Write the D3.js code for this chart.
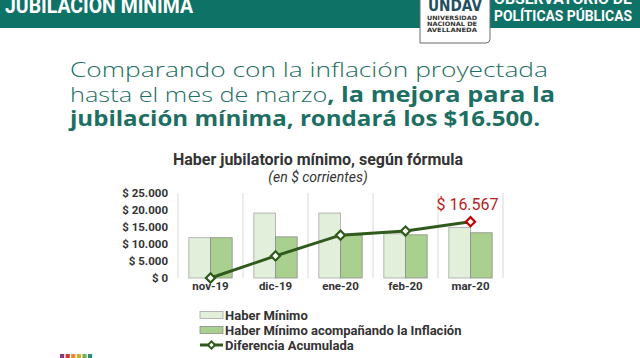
<!DOCTYPE html>
<html><head><meta charset="utf-8">
<script src="https://cdn.jsdelivr.net/npm/d3@7"></script>
<style>html,body{margin:0;padding:0;background:#fff;}svg{display:block;}</style>
</head><body>
<script>
const categories = ["nov-19","dic-19","ene-20","feb-20","mar-20"];
const haberMinimo = [11850, 19100, 19100, 13000, 14900];
const haberInflacion = [11850, 12100, 12600, 12700, 13300];
const diferencia = [0, 6500, 12600, 13800, 16567];
const yTicks = [0, 5000, 10000, 15000, 20000, 25000];
const seriesNames = ["Haber Mínimo","Haber Mínimo acompañando la Inflación","Diferencia Acumulada"];
const headlineLines = [
  [["Comparando con la inflación proyectada", false]],
  [["hasta el mes de marzo", false], [", la mejora para la", true]],
  [["jubilación mínima, rondará los $16.500.", true]]
];
const headlineWidths = [478, 485, 470];

const W = 640, H = 358;
const teal = "#0f7267";
const svg = d3.select("body").append("svg").attr("width", W).attr("height", H);
svg.append("rect").attr("width", W).attr("height", H).attr("fill", "#fff");

// Header band
svg.append("rect").attr("x",0).attr("y",0).attr("width",W).attr("height",28).attr("fill",teal);
svg.append("text").attr("x",5).attr("y",13).attr("fill","#fff")
  .attr("font-family","Roboto").attr("font-weight",700).attr("font-size",22)
  .attr("textLength",188).attr("lengthAdjust","spacingAndGlyphs").text("JUBILACIÓN MÍNIMA");
svg.append("text").attr("x",494).attr("y",4).attr("fill","#fff")
  .attr("font-family","Roboto").attr("font-weight",700).attr("font-size",15)
  .attr("textLength",138).attr("lengthAdjust","spacingAndGlyphs").text("OBSERVATORIO DE");
svg.append("text").attr("x",494).attr("y",21).attr("fill","#fff")
  .attr("font-family","Roboto").attr("font-weight",700).attr("font-size",15)
  .attr("textLength",138).attr("lengthAdjust","spacingAndGlyphs").text("POLÍTICAS PÚBLICAS");

// Logo
const logo = svg.append("g");
logo.append("path").attr("d","M420,-2 L420,43 L486,43 Q490,43 490,39 L490,-2")
  .attr("fill","#fff").attr("stroke","#6b6b6b").attr("stroke-width",1);
logo.append("text").attr("x",455).attr("y",11).attr("text-anchor","middle")
  .attr("font-family","DejaVu Sans").attr("font-weight",700).attr("font-size",16)
  .attr("fill","#1f4f5e").attr("textLength",54).attr("lengthAdjust","spacingAndGlyphs").text("UNDAV");
["UNIVERSIDAD","NACIONAL DE","AVELLANEDA"].forEach((t,i)=>{
  logo.append("text").attr("x",427).attr("y",20+i*6.2)
    .attr("font-family","DejaVu Sans").attr("font-weight",700).attr("font-size",6)
    .attr("fill","#333").attr("textLength",50).attr("lengthAdjust","spacingAndGlyphs").text(t);
});

// Headline paragraph
headlineLines.forEach((parts,i)=>{
  const t = svg.append("text").attr("x",70).attr("y",77+i*24.5)
    .attr("font-family","'Open Sans', Lato, sans-serif").attr("font-size",20.5).attr("fill","#1d6e63")
    .attr("textLength",headlineWidths[i]).attr("lengthAdjust","spacingAndGlyphs");
  parts.forEach(([s,b])=>{
    t.append("tspan").attr("font-weight", b?700:300).text(s);
  });
});

// Chart titles
svg.append("text").attr("x",318).attr("y",165).attr("text-anchor","middle")
  .attr("font-family","Roboto").attr("font-weight",700).attr("font-size",16).attr("fill","#333")
  .text("Haber jubilatorio mínimo, según fórmula");
svg.append("text").attr("x",318).attr("y",182).attr("text-anchor","middle")
  .attr("font-family","Roboto").attr("font-style","italic").attr("font-size",14).attr("fill","#333")
  .text("(en $ corrientes)");

// Scales
const x = d3.scaleBand().domain(categories).range([178,503]).paddingInner(0).paddingOuter(0);
const x1 = d3.scaleBand().domain(["a","b"]).range([0,x.bandwidth()]).paddingInner(0).paddingOuter(0.5);
const y = d3.scaleLinear().domain([0,25000]).range([278,193]);

// vertical gridlines at band edges
const edges = categories.map(c=>x(c)).concat([x.range()[1]]);
svg.append("g").selectAll("line").data(edges).join("line")
  .attr("x1",d=>d).attr("x2",d=>d).attr("y1",y(25000)).attr("y2",y(0))
  .attr("stroke","#d9d9d9").attr("stroke-width",1);

// y axis
const yAxis = d3.axisLeft(y).tickValues(yTicks).tickSize(0).tickPadding(0)
  .tickFormat(d=>"$ " + d3.format(",")(d).replace(/,/g,"."));
const ya = svg.append("g").attr("transform","translate(168,0)").call(yAxis);
ya.select(".domain").remove();
ya.selectAll("text").attr("font-family","Roboto").attr("font-weight",700).attr("font-size",11.5).attr("fill","#333");

// x axis
const xAxis = d3.axisBottom(x).tickSize(0).tickPadding(0);
const xa = svg.append("g").attr("transform","translate(0,282)").call(xAxis);
xa.select(".domain").remove();
xa.selectAll("text").attr("font-family","Roboto").attr("font-weight",700).attr("font-size",11.5).attr("fill","#333");

// bars
const bars = svg.append("g");
categories.forEach((c,i)=>{
  bars.append("rect").attr("x",x(c)+x1("a")).attr("y",y(haberMinimo[i]))
    .attr("width",x1.bandwidth()).attr("height",y(0)-y(haberMinimo[i]))
    .attr("fill","#e2efda").attr("stroke","#a6a6a6").attr("stroke-width",0.8);
  bars.append("rect").attr("x",x(c)+x1("b")).attr("y",y(haberInflacion[i]))
    .attr("width",x1.bandwidth()).attr("height",y(0)-y(haberInflacion[i]))
    .attr("fill","#a9d08e").attr("stroke","#8c8c8c").attr("stroke-width",0.8);
});

// line
const lineColor = "#2f5a1b";
const pts = categories.map((c,i)=>[x(c)+x.bandwidth()/2, y(diferencia[i])]);
svg.append("path").attr("d", d3.line()(pts)).attr("fill","none")
  .attr("stroke",lineColor).attr("stroke-width",3);
pts.forEach((p,i)=>{
  const last = i===pts.length-1;
  svg.append("path").attr("d", d3.symbol().type(d3.symbolSquare).size(42)())
    .attr("transform",`translate(${p[0]},${p[1]}) rotate(45)`)
    .attr("fill","#fff").attr("stroke", last?"#c00000":lineColor).attr("stroke-width",2.2);
});
// value label
const lp = pts[pts.length-1];
svg.append("text").attr("x",lp[0]-3).attr("y",210).attr("text-anchor","middle")
  .attr("font-family","Roboto").attr("font-size",16).attr("fill","#b91c1c")
  .text("$ " + d3.format(",")(diferencia[diferencia.length-1]).replace(/,/g,"."));

// legend
const lg = svg.append("g");
const rows = [315,330,345];
lg.append("rect").attr("x",200).attr("y",rows[0]-3.5).attr("width",23).attr("height",7)
  .attr("fill","#e2efda").attr("stroke","#a6a6a6").attr("stroke-width",0.8);
lg.append("rect").attr("x",200).attr("y",rows[1]-3.5).attr("width",23).attr("height",7)
  .attr("fill","#a9d08e").attr("stroke","#8c8c8c").attr("stroke-width",0.8);
lg.append("line").attr("x1",200).attr("x2",223).attr("y1",rows[2]).attr("y2",rows[2])
  .attr("stroke",lineColor).attr("stroke-width",3);
lg.append("path").attr("d", d3.symbol().type(d3.symbolSquare).size(26)())
  .attr("transform",`translate(211.5,${rows[2]}) rotate(45)`)
  .attr("fill","#fff").attr("stroke",lineColor).attr("stroke-width",2);
seriesNames.forEach((s,i)=>{
  lg.append("text").attr("x",225).attr("y",rows[i]+4.5)
    .attr("font-family","Roboto").attr("font-weight",700).attr("font-size",13).attr("fill","#333").text(s);
});

// bottom colored squares
const sqColors = ["#8b3a7c","#d23a3a","#e88b2e","#c9b22c","#7bb04a","#2a8b8b"];
sqColors.forEach((c,i)=>{
  svg.append("rect").attr("x",60+i*5.6).attr("y",354).attr("width",4.2).attr("height",4.2).attr("fill",c);
});
</script>
</body></html>
